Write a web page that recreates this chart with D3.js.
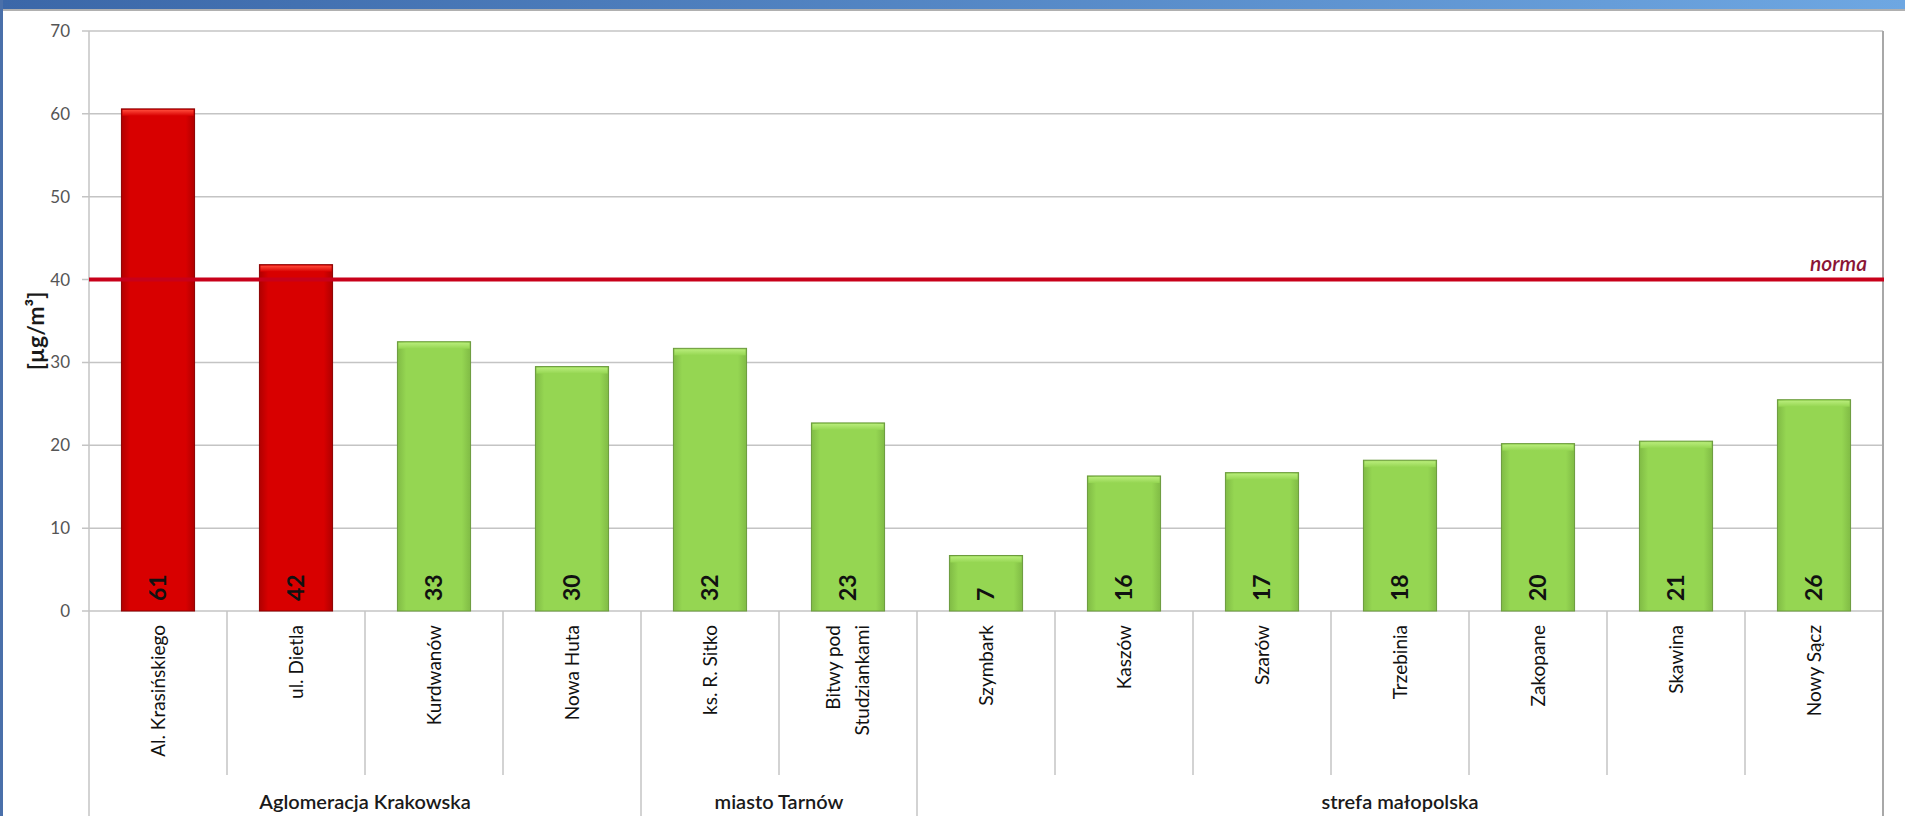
<!DOCTYPE html>
<meta charset="utf-8">
<style>
    body {
        margin: 0;
        background-color: #fff;
        overflow: hidden;
    }

    svg {
        display: block;
    }

    text {
        font-family: Lato, "Open Sans", sans-serif;
    }

    .grid line {
        stroke: #c4c4c4;
        stroke-width: 1.5px;
    }

    .ylab {
        font-size: 17px;
        fill: #555;
    }

    .cat {
        font-size: 19px;
        fill: #111;
    }

    .val {
        font-size: 23px;
        font-weight: bold;
        fill: #111;
    }

    .grp {
        font-size: 20px;
        font-weight: 600;
        fill: #1a1a1a;
    }
</style>
<svg width="1905" height="816"></svg>
<script src="https://d3js.org/d3.v7.min.js"></script>
<script>
    // data
    var stations = ["Al. Krasińskiego", "ul. Dietla", "Kurdwanów", "Nowa Huta", "ks. R. Sitko",
        "Bitwy pod Studziankami", "Szymbark", "Kaszów", "Szarów", "Trzebinia", "Zakopane", "Skawina", "Nowy Sącz"];
    var values = [60.6, 41.8, 32.5, 29.5, 31.7, 22.7, 6.7, 16.3, 16.7, 18.2, 20.2, 20.5, 25.5];
    var groupNames = ["Aglomeracja Krakowska", "miasto Tarnów", "strefa małopolska"];
    var groupSizes = [4, 2, 7];
    var yTicks = [0, 10, 20, 30, 40, 50, 60, 70];
    var norma = 40;

    var svg = d3.select("svg"),
        width = +svg.attr("width"),
        height = +svg.attr("height");

    var plotLeft = 89, plotRight = 1883, plotTop = 31, plotBottom = 611;

    var x = d3.scaleBand()
        .domain(stations)
        .range([plotLeft, plotRight])
        .paddingInner(0.47)
        .paddingOuter(0.235);

    var y = d3.scaleLinear()
        .domain([0, 70])
        .range([plotBottom, plotTop]);

    var step = x.step();
    var bandStart = function(i) { return plotLeft + i * step; };

    // gradients for the bevelled bars
    var defs = svg.append("defs");

    function barGradient(id, edge, mid) {
        var g = defs.append("linearGradient").attr("id", id)
            .attr("x1", "0").attr("x2", "1").attr("y1", "0").attr("y2", "0");
        g.append("stop").attr("offset", "0%").attr("stop-color", edge);
        g.append("stop").attr("offset", "12%").attr("stop-color", mid);
        g.append("stop").attr("offset", "88%").attr("stop-color", mid);
        g.append("stop").attr("offset", "100%").attr("stop-color", edge);
    }
    barGradient("redBar", "#b00000", "#d80000");
    barGradient("greenBar", "#80bb45", "#95d652");

    var capRed = defs.append("linearGradient").attr("id", "capRed")
        .attr("x1", "0").attr("x2", "0").attr("y1", "0").attr("y2", "1");
    capRed.append("stop").attr("offset", "0%").attr("stop-color", "#ff4a3a");
    capRed.append("stop").attr("offset", "100%").attr("stop-color", "#d80000");
    var capGreen = defs.append("linearGradient").attr("id", "capGreen")
        .attr("x1", "0").attr("x2", "0").attr("y1", "0").attr("y2", "1");
    capGreen.append("stop").attr("offset", "0%").attr("stop-color", "#b8ec7a");
    capGreen.append("stop").attr("offset", "100%").attr("stop-color", "#95d652");

    var hdr = defs.append("linearGradient").attr("id", "hdr")
        .attr("x1", "0").attr("x2", "1").attr("y1", "0").attr("y2", "0");
    hdr.append("stop").attr("offset", "0%").attr("stop-color", "#3b67a8");
    hdr.append("stop").attr("offset", "100%").attr("stop-color", "#6ea7e2");

    // slide frame: blue header strip and left edge
    svg.append("rect").attr("x", 0).attr("y", 0).attr("width", width).attr("height", 9)
        .attr("fill", "url(#hdr)");
    svg.append("rect").attr("x", 0).attr("y", 9).attr("width", width).attr("height", 2)
        .attr("fill", "#b0b0b0");
    svg.append("rect").attr("x", 0).attr("y", 0).attr("width", 3).attr("height", height)
        .attr("fill", "#4a70aa");

    // gridlines
    svg.append("g")
        .attr("class", "grid")
        .selectAll("line")
        .data(yTicks)
        .enter().append("line")
        .attr("x1", plotLeft - 7)
        .attr("x2", plotRight)
        .attr("y1", function(d) { return y(d); })
        .attr("y2", function(d) { return y(d); });

    svg.append("g")
        .selectAll("text")
        .data(yTicks)
        .enter().append("text")
        .attr("class", "ylab")
        .attr("x", 70)
        .attr("y", function(d) { return y(d); })
        .attr("dy", "0.35em")
        .attr("text-anchor", "end")
        .text(function(d) { return d; });

    // vertical frame lines: axis, right edge and category separators
    var groupEnds = [];
    var acc = 0;
    groupSizes.forEach(function(n) { acc += n; groupEnds.push(acc); });

    var seps = d3.range(0, stations.length + 1);
    svg.append("g")
        .attr("class", "grid")
        .selectAll("line")
        .data(seps)
        .enter().append("line")
        .attr("x1", function(i) { return bandStart(i); })
        .attr("x2", function(i) { return bandStart(i); })
        .attr("y1", function(i) { return i === 0 || i === stations.length ? plotTop : plotBottom; })
        .attr("y2", function(i) {
            return (i === 0 || groupEnds.indexOf(i) >= 0) ? height : 775;
        });

    svg.append("line")
        .attr("x1", plotRight).attr("x2", plotRight)
        .attr("y1", plotTop).attr("y2", height)
        .attr("stroke", "#a8a8a8").attr("stroke-width", 2);

    // bars
    var bars = svg.append("g")
        .selectAll("g")
        .data(stations)
        .enter().append("g");

    bars.append("rect")
        .attr("x", function(d) { return x(d); })
        .attr("y", function(d, i) { return y(values[i]); })
        .attr("width", x.bandwidth())
        .attr("height", function(d, i) { return y(0) - y(values[i]); })
        .attr("fill", function(d, i) { return values[i] > norma ? "url(#redBar)" : "url(#greenBar)"; })
        .attr("stroke", function(d, i) { return values[i] > norma ? "#8c0000" : "#6b9a3c"; })
        .attr("stroke-width", 1);

    bars.append("rect")
        .attr("x", function(d) { return x(d) + 1; })
        .attr("y", function(d, i) { return y(values[i]) + 1; })
        .attr("width", x.bandwidth() - 2)
        .attr("height", 6)
        .attr("fill", function(d, i) { return values[i] > norma ? "url(#capRed)" : "url(#capGreen)"; });

    // value labels inside bars
    bars.append("text")
        .attr("class", "val")
        .attr("transform", function(d) {
            return "translate(" + (x(d) + x.bandwidth() / 2) + "," + (plotBottom - 10) + ") rotate(-90)";
        })
        .attr("dy", "0.36em")
        .text(function(d, i) { return Math.round(values[i]); });

    // station labels
    var cats = svg.append("g")
        .selectAll("text")
        .data(stations)
        .enter().append("text")
        .attr("class", "cat")
        .attr("text-anchor", "end")
        .attr("transform", function(d) {
            return "translate(" + (x(d) + x.bandwidth() / 2) + "," + (plotBottom + 14) + ") rotate(-90)";
        });

    cats.each(function(d) {
        var t = d3.select(this);
        var lines = d === "Bitwy pod Studziankami" ? ["Bitwy pod", "Studziankami"] : [d];
        lines.forEach(function(s, k) {
            t.append("tspan")
                .attr("x", 0)
                .attr("y", 0)
                .attr("dy", (0.35 + (k - (lines.length - 1) / 2) * 1.55) + "em")
                .text(s);
        });
    });

    // group labels
    var starts = [0];
    groupEnds.slice(0, -1).forEach(function(e) { starts.push(e); });
    svg.append("g")
        .selectAll("text")
        .data(groupNames)
        .enter().append("text")
        .attr("class", "grp")
        .attr("text-anchor", "middle")
        .attr("x", function(d, i) { return (bandStart(starts[i]) + bandStart(groupEnds[i])) / 2; })
        .attr("y", 809)
        .text(function(d) { return d; });

    // limit line
    svg.append("line")
        .attr("x1", plotLeft)
        .attr("x2", plotRight + 1)
        .attr("y1", y(norma))
        .attr("y2", y(norma))
        .attr("stroke", "#c8001a")
        .attr("stroke-width", 4);

    svg.append("text")
        .attr("x", 1867)
        .attr("y", y(norma) - 9)
        .attr("text-anchor", "end")
        .attr("font-style", "italic")
        .attr("font-weight", 600)
        .attr("font-size", 21)
        .attr("fill", "#8a1535")
        .text("norma");

    // y axis title
    svg.append("text")
        .attr("transform", "translate(36,331) rotate(-90)")
        .attr("text-anchor", "middle")
        .attr("dy", "0.35em")
        .attr("font-size", 23)
        .attr("font-weight", "bold")
        .attr("fill", "#1a1a1a")
        .text("[µg/m³]");
</script>
